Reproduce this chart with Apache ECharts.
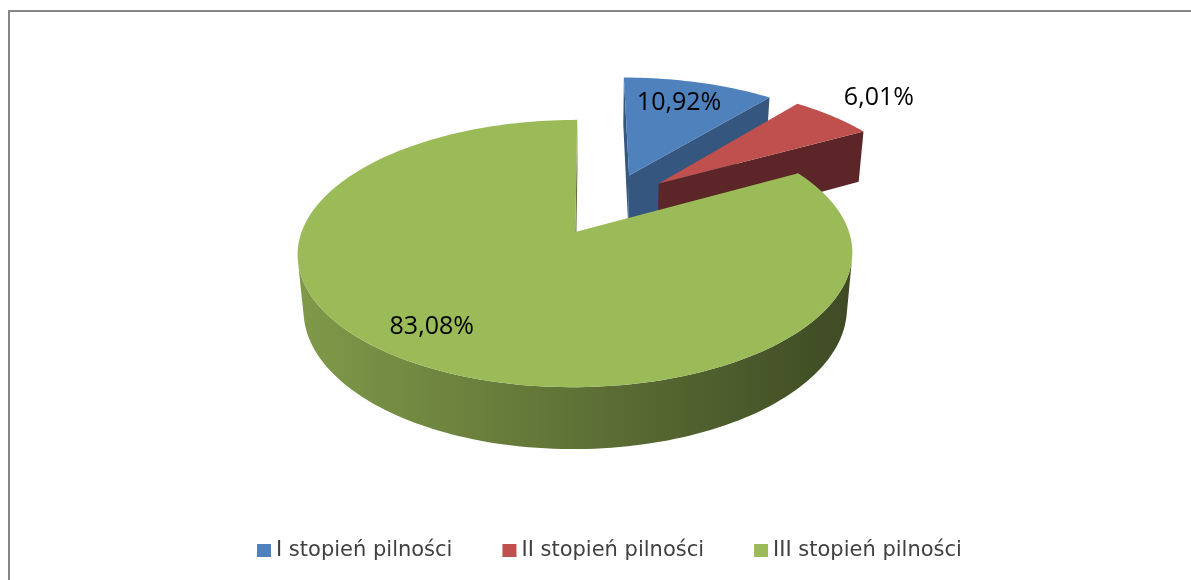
<!DOCTYPE html>
<html>
<head>
<meta charset="utf-8">
<script src="https://cdn.jsdelivr.net/npm/echarts@6/dist/echarts.min.js"></script>
<style>
    html, body { margin: 0; padding: 0; background: #ffffff; }
    #chart { width: 1191px; height: 580px; }
</style>
</head>
<body>
<div id="chart"></div>
<script>
var categories = ['I stopień pilności', 'II stopień pilności', 'III stopień pilności'];
var shares = [10.92, 6.01, 83.08];

var topColors = ['#4F81BD', '#C0504D', '#9BBB59'];
var wallColors = ['#34567F', '#5C2527', '#5A7035'];
// pulled-out slices: [distance in radii, direction in degrees clockwise from 12 o'clock]
var explode = [[0.51, 24], [0.51, 39], [0, 0]];
var labelRadius = [0.75, 1.3, 0.8];
var labelTurn = [-1.5, 0, 5];

// camera looking down on the pie (pie centre sits a bit left of the camera axis)
var cam = { cx: 589, cy: 232, F: 1700, D: 6.21, tilt: 28.4, h: 0.234, X0: -0.05 };

var sn = Math.sin(cam.tilt * Math.PI / 180), cs = Math.cos(cam.tilt * Math.PI / 180);
var focal = cam.F * cs, dist = cam.D * cs;
var camPos = [0, dist * sn, dist * cs];

function proj(X, Y, Z) {
    var yc = Y * cs - Z * sn;
    var zc = dist - Z * cs - Y * sn;
    return [cam.cx + focal * X / zc, cam.cy - focal * yc / zc];
}

var total = shares.reduce(function (a, b) { return a + b; }, 0);
var starts = [], spans = [];
var acc = 0;
for (var i = 0; i < shares.length; i++) {
    starts.push(acc / total * Math.PI * 2);
    spans.push(shares[i] / total * Math.PI * 2);
    acc += shares[i];
}

function shade(hex, k) {
    var r = parseInt(hex.slice(1, 3), 16), g = parseInt(hex.slice(3, 5), 16), b = parseInt(hex.slice(5, 7), 16);
    return 'rgb(' + Math.round(r * k) + ',' + Math.round(g * k) + ',' + Math.round(b * k) + ')';
}

// world point of slice i at angle t, radius r, height y
function world(i, t, r, y) {
    var e = explode[i][0], d = explode[i][1] * Math.PI / 180;
    return [cam.X0 + e * Math.sin(d) + r * Math.sin(t), y, -e * Math.cos(d) - r * Math.cos(t)];
}

function facing(n, p) {
    return n[0] * (camPos[0] - p[0]) + n[1] * (camPos[1] - p[1]) + n[2] * (camPos[2] - p[2]) > 0;
}

function poly(pts, fill, z2) {
    return {
        type: 'polygon',
        z2: z2,
        shape: { points: pts.map(function (p) { return proj(p[0], p[1], p[2]); }) },
        style: { fill: fill }
    };
}

function sideFill(i) {
    var l = proj(cam.X0 - 1, 0, 0)[0], r = proj(cam.X0 + 1, 0, 0)[0];
    return new echarts.graphic.LinearGradient(l, 0, r, 0, [
        { offset: 0, color: shade(topColors[i], 0.82) },
        { offset: 0.5, color: shade(topColors[i], 0.61) },
        { offset: 1, color: shade(topColors[i], 0.4) }
    ], true);
}

function renderSlice(i) {
    return function (params, api) {
        var a0 = starts[i], a1 = starts[i] + spans[i];
        var n = Math.max(2, Math.ceil(spans[i] / (Math.PI / 120)));
        var h = cam.h;
        var children = [];
        var apexT = world(i, 0, 0, 0), apexB = world(i, 0, 0, -h);
        var rimT = [], rimB = [], k, t;
        for (k = 0; k <= n; k++) {
            t = a0 + (a1 - a0) * k / n;
            rimT.push(world(i, t, 1, 0));
            rimB.push(world(i, t, 1, -h));
        }
        // cut walls
        var n0 = [-Math.cos(a0), 0, -Math.sin(a0)];
        var n1 = [Math.cos(a1), 0, Math.sin(a1)];
        if (facing(n0, rimT[0])) children.push(poly([apexT, rimT[0], rimB[0], apexB], wallColors[i], 2));
        if (facing(n1, rimT[n])) children.push(poly([apexT, rimT[n], rimB[n], apexB], wallColors[i], 2));
        // outer side, one polygon per visible run of segments
        var run = null, runs = [];
        for (k = 0; k < n; k++) {
            t = a0 + (a1 - a0) * (k + 0.5) / n;
            var vis = facing([Math.sin(t), 0, -Math.cos(t)], rimT[k]);
            if (vis) {
                if (!run) { run = [k, k + 1]; runs.push(run); } else { run[1] = k + 1; }
            } else {
                run = null;
            }
        }
        runs.forEach(function (rn) {
            var pts = rimT.slice(rn[0], rn[1] + 1).concat(rimB.slice(rn[0], rn[1] + 1).reverse());
            children.push(poly(pts, sideFill(i), 3));
        });
        // top face
        children.push(poly([apexT].concat(rimT), topColors[i], 5));
        // value label
        var mid = a0 + spans[i] / 2 + labelTurn[i] * Math.PI / 180;
        var lp = world(i, mid, labelRadius[i], 0);
        var xy = proj(lp[0], lp[1], lp[2]);
        children.push({
            type: 'text',
            z2: 10,
            x: xy[0],
            y: xy[1],
            style: {
                text: shares[i].toFixed(2).replace('.', ',') + '%',
                fill: '#000000',
                font: '25px "Open Sans"',
                align: 'center',
                verticalAlign: 'middle'
            }
        });
        return { type: 'group', children: children };
    };
}

var chart = echarts.init(document.getElementById('chart'));
var series = [];
for (var s = 0; s < categories.length; s++) {
    series.push({
        name: categories[s],
        type: 'custom',
        coordinateSystem: 'none',
        itemStyle: { color: topColors[s] },
        data: [[shares[s]]],
        renderItem: renderSlice(s)
    });
}

var option = {
    backgroundColor: '#ffffff',
    animation: false,
    graphic: [{
        type: 'rect',
        z: -10,
        shape: { x: 9, y: 11, width: 1220, height: 620 },
        style: { fill: 'none', stroke: '#868686', lineWidth: 2 }
    }],
    legend: {
        data: categories,
        left: 252,
        top: 535,
        icon: 'rect',
        itemWidth: 14,
        itemHeight: 13,
        itemGap: 50,
        textStyle: { fontFamily: 'DejaVu Sans', fontSize: 21, color: '#404040' }
    },
    series: series
};
chart.setOption(option);
</script>
</body>
</html>
